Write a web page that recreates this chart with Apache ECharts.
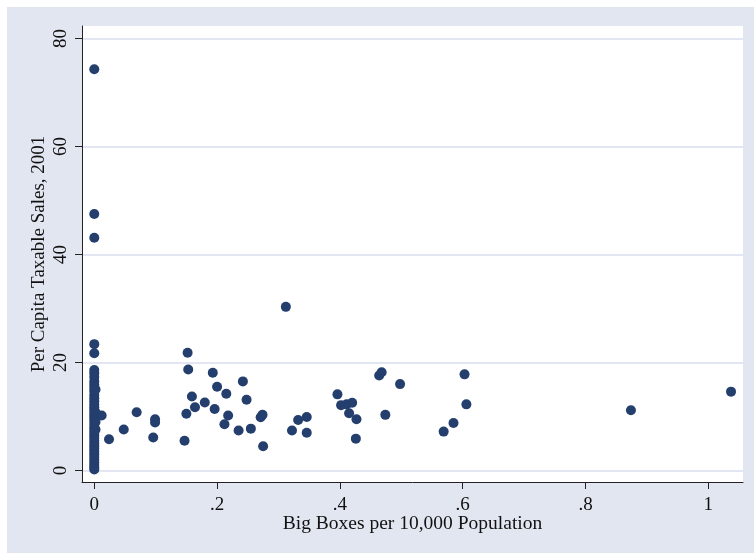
<!DOCTYPE html>
<html>
<head>
<meta charset="utf-8">
<script src="https://cdn.jsdelivr.net/npm/echarts@6/dist/echarts.min.js"></script>
<style>
html,body{margin:0;padding:0;background:#ffffff;}
#chart{width:754px;height:553px;}
</style>
</head>
<body>
<div id="chart"></div>
<script>
// Big boxes per 10,000 population (x) and per capita taxable sales, 2001 (y)
const bigBoxes = [
  0, 0, 0, 0, 0,
  0, 0, 0, 0, 0,
  0, 0, 0, 0, 0,
  0, 0, 0, 0, 0,
  0, 0, 0, 0, 0,
  0, 0, 0, 0, 0,
  0, 0, 0, 0, 0,
  0, 0, 0, 0, 0,
  0.002, 0.002, 0.002, 0.002,
  0.012, 0.024, 0.048, 0.069, 0.099, 0.099, 0.096,
  0.147, 0.152, 0.153, 0.159, 0.150, 0.164, 0.180, 0.193, 0.200, 0.196,
  0.215, 0.218, 0.212, 0.242, 0.248, 0.235, 0.255, 0.271, 0.274, 0.275,
  0.312, 0.322, 0.332, 0.346, 0.346,
  0.396, 0.402, 0.411, 0.420, 0.415, 0.427, 0.426,
  0.464, 0.468, 0.498, 0.474,
  0.569, 0.585, 0.603, 0.606,
  0.874, 1.037
];
const salesPerCapita = [
  74.3, 47.5, 43.1, 23.4, 21.7,
  18.6, 18.0, 17.3, 16.5, 15.9,
  15.3, 14.7, 14.0, 13.4, 12.8,
  12.2, 11.7, 11.2, 10.7, 10.2,
  9.7, 9.2, 8.6, 8.0, 7.5,
  7.0, 6.5, 6.0, 5.5, 5.0,
  4.5, 4.0, 3.5, 3.0, 2.5,
  2.0, 1.5, 1.0, 0.6, 0.2,
  15.0, 10.8, 9.0, 7.6,
  10.2, 5.8, 7.6, 10.8, 9.5, 8.9, 6.1,
  5.5, 21.8, 18.7, 13.7, 10.5, 11.7, 12.6, 18.1, 15.5, 11.4,
  14.2, 10.2, 8.55, 16.5, 13.1, 7.4, 7.75, 9.85, 10.3, 4.5,
  30.3, 7.4, 9.35, 9.9, 7.0,
  14.1, 12.1, 12.25, 12.55, 10.6, 9.5, 5.9,
  17.6, 18.2, 16.0, 10.3,
  7.2, 8.8, 17.8, 12.25,
  11.15, 14.6
];
const xTicks = [0, 0.2, 0.4, 0.6, 0.8, 1];
const xTickLabels = ['0', '.2', '.4', '.6', '.8', '1'];
const yTicks = [0, 20, 40, 60, 80];
const yTickLabels = ['0', '20', '40', '60', '80'];

const points = bigBoxes.map((x, i) => [x, salesPerCapita[i]]);
const font = 'Liberation Serif, Times New Roman, serif';

const chart = echarts.init(document.getElementById('chart'), null, {renderer: 'canvas'});
chart.setOption({
  animation: false,
  backgroundColor: '#ffffff',
  graphic: [{
    type: 'rect', z: -10, silent: true,
    shape: {x: 7, y: 7, width: 747, height: 546},
    style: {fill: '#e2e6f0'}
  }],
  grid: {
    left: 82, right: 11, top: 26, bottom: 71,
    show: true, backgroundColor: '#ffffff', borderWidth: 0
  },
  xAxis: {
    type: 'value',
    min: -0.02, max: 1.0565,
    name: 'Big Boxes per 10,000 Population',
    nameLocation: 'middle',
    nameGap: 32,
    nameMoveOverlap: false,
    nameTextStyle: {fontFamily: font, fontSize: 19.5, color: '#111'},
    axisLine: {show: true, onZero: false, lineStyle: {color: '#222', width: 1}},
    axisTick: {show: true, length: 7, customValues: xTicks, lineStyle: {color: '#222'}},
    axisLabel: {
      show: true, customValues: xTicks, margin: 14,
      fontFamily: font, fontSize: 19, color: '#111',
      formatter: v => xTickLabels[xTicks.indexOf(+v.toFixed(3))]
    },
    splitLine: {show: false}
  },
  yAxis: {
    type: 'value',
    min: -2.13, max: 82.31,
    name: 'Per Capita Taxable Sales, 2001',
    nameLocation: 'middle',
    nameGap: 33,
    nameRotate: 90,
    nameMoveOverlap: false,
    nameTextStyle: {fontFamily: font, fontSize: 19, color: '#111'},
    axisLine: {show: true, onZero: false, lineStyle: {color: '#222', width: 1}},
    axisTick: {show: true, length: 7, customValues: yTicks, lineStyle: {color: '#222'}},
    axisLabel: {
      show: true, customValues: yTicks, rotate: 90, margin: 11,
      fontFamily: font, fontSize: 19, color: '#111',
      align: 'center', verticalAlign: 'bottom',
      formatter: v => yTickLabels[yTicks.indexOf(Math.round(v))]
    },
    splitLine: {show: true, lineStyle: {color: '#e1e6f2', width: 2}}
  },
  series: [{
    type: 'scatter',
    data: points,
    symbol: 'circle',
    symbolSize: 10,
    itemStyle: {color: '#243f6e', opacity: 1},
    silent: true
  }]
});
</script>
</body>
</html>
